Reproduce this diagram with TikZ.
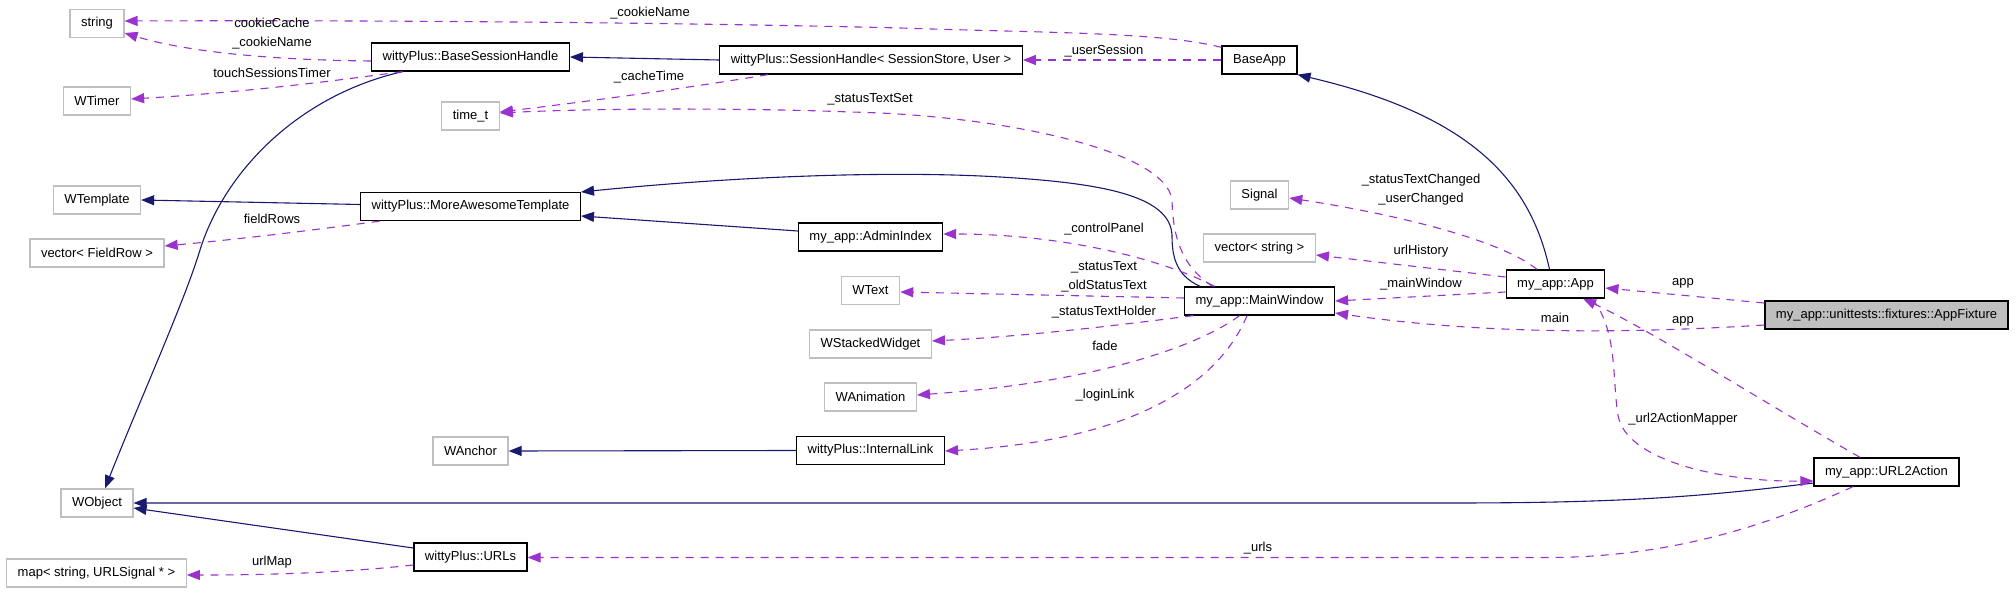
\documentclass[tikz,border=0pt]{standalone}
\usepackage{fontspec}
\setmainfont{Liberation Sans}
\usepackage{tikz}
\usetikzlibrary{arrows.meta}
\definecolor{InhBlue}{HTML}{191970}
\definecolor{UseOrchid}{HTML}{9A32CD}
\definecolor{ExtGray}{HTML}{BFBFBF}

\begin{document}
\begin{tikzpicture}[x=1pt,y=-1pt,
    every node/.style={font=\fontsize{13}{19}\selectfont},
    cls/.style={draw=black,line width=1.3pt,fill=white,minimum height=28pt,
      inner xsep=11pt,inner ysep=0pt},
    ext/.style={cls,draw=ExtGray},
    root/.style={cls,fill=ExtGray},
    inh/.style={draw=InhBlue,line width=1.1pt,
      -{Triangle[length=13pt,width=10pt]}},
    use/.style={draw=UseOrchid,line width=1.1pt,dash pattern=on 8pt off 7pt,
      -{Triangle[length=13pt,width=10pt]}},
    lbl/.style={align=center,inner sep=0pt}]
    \useasboundingbox (0,0) rectangle (2016,593);
    \node[ext] (string) at (97,23.5) {string};
    \node[ext] (wtimer) at (97,101) {WTimer};
    \node[ext] (wtemplate) at (97,200) {WTemplate};
    \node[ext] (fieldvec) at (97,253) {vector< FieldRow >};
    \node[ext] (wobject) at (97,503) {WObject};
    \node[ext] (urlmap) at (96.5,573) {map< string, URLSignal * >};
    \node[cls] (bsh) at (470.5,57) {wittyPlus::BaseSessionHandle};
    \node[ext] (timet) at (470.5,116) {time\_t};
    \node[cls] (mat) at (470.5,206.5) {wittyPlus::MoreAwesomeTemplate};
    \node[ext] (wanchor) at (470.5,451) {WAnchor};
    \node[cls] (urls) at (470.5,557) {wittyPlus::URLs};
    \node[cls] (sh) at (871,60) {wittyPlus::SessionHandle< SessionStore, User >};
    \node[cls] (admin) at (870.5,237) {my\_app::AdminIndex};
    \node[ext] (wtext) at (870.5,290.5) {WText};
    \node[ext] (wstacked) at (870.5,344) {WStackedWidget};
    \node[ext] (wanim) at (870.5,397) {WAnimation};
    \node[cls] (ilink) at (870.5,450.5) {wittyPlus::InternalLink};
    \node[cls] (baseapp) at (1259.5,60) {BaseApp};
    \node[ext] (signal) at (1259.5,195) {Signal};
    \node[ext] (strvec) at (1259.5,248) {vector< string >};
    \node[cls] (mainwin) at (1259.5,301) {my\_app::MainWindow};
    \node[cls] (app) at (1555.5,284) {my\_app::App};
    \node[root] (fixture) at (1886.5,315) {my\_app::unittests::fixtures::AppFixture};
    \node[cls] (url2act) at (1886.5,472) {my\_app::URL2Action};

    \draw[inh] ([xshift=-68pt]bsh.south) .. controls (300,95) and (225,170) .. (200,250)
      .. controls (185,300) and (140,400) .. ([xshift=8pt]wobject.north);
    \draw[inh] (sh.west) -- (bsh.east);
    \draw[inh] ([xshift=-6pt]app.north) .. controls (1530,180) and (1470,115) .. (baseapp.south east);
    \draw[inh] ([yshift=2pt]mat.west) -- (wtemplate.east);
    \draw[inh] ([xshift=-59.5pt]mainwin.north) .. controls (1175,275) and (1172,255) .. (1172,235)
      .. controls (1170,195) and (1100,183) .. (1000,177)
      .. controls (900,171) and (750,175) .. ([yshift=14.5pt]mat.east);
    \draw[inh] ([yshift=6pt]admin.west) -- ([yshift=-9.5pt]mat.east);
    \draw[inh] (ilink.west) -- (wanchor.east);
    \draw[inh] ([yshift=-11pt]url2act.west) .. controls (1700,497) and (1620,503) .. (1450,503)
      -- (wobject.east);
    \draw[inh] ([yshift=9pt]urls.west) -- ([yshift=-5pt]wobject.east);

    \draw[use] ([yshift=-2pt]baseapp.north west) .. controls (1160,32) and (1050,33) .. (900,28)
      .. controls (700,23) and (400,20) .. ([yshift=2.5pt]string.east);
    \draw[use] ([yshift=-4pt]bsh.west) .. controls (260,60) and (180,50) .. ([yshift=-9.5pt]string.east);
    \draw[use] ([xshift=-68pt]bsh.south) .. controls (340,80) and (250,92) .. ([yshift=2pt]wtimer.east);
    \draw[use] ([xshift=-103pt]sh.south) .. controls (700,86) and (600,100) .. ([yshift=4pt]timet.east);
    \draw[use] (baseapp.west) -- (sh.east);
    \draw[use] ([xshift=-47pt]mainwin.north) .. controls (1180,265) and (1173,235) .. (1172,200)
      .. controls (1166,150) and (1000,115) .. (850,112)
      .. controls (750,108) and (600,108) .. ([yshift=3pt]timet.east);
    \draw[use] ([xshift=-91pt]mat.south) .. controls (300,232) and (230,240) .. ([yshift=7pt]fieldvec.east);
    \draw[use] ([xshift=-45pt]mainwin.north) .. controls (1160,258) and (1060,234) .. ([yshift=3pt]admin.east);
    \draw[use] ([yshift=3pt]mainwin.west) -- ([yshift=-1.5pt]wtext.east);
    \draw[use] ([xshift=-66.5pt]mainwin.south) .. controls (1120,325) and (1030,336) .. ([yshift=3pt]wstacked.east);
    \draw[use] ([xshift=-20pt]mainwin.south) .. controls (1200,345) and (1100,382) .. ([yshift=2pt]wanim.east);
    \draw[use] ([xshift=-12.5pt]mainwin.south) .. controls (1220,380) and (1140,440) .. ([yshift=-0.5pt]ilink.east);
    \draw[use] ([xshift=-18.5pt]app.north) .. controls (1500,240) and (1400,215) .. ([yshift=-3pt]signal.east);
    \draw[use] ([yshift=7pt]app.west) -- ([yshift=-7pt]strvec.east);
    \draw[use] ([yshift=-8pt]app.west) -- (mainwin.east);
    \draw[use] ([yshift=12pt]fixture.west) -- ([yshift=-4pt]app.east);
    \draw[use] ([yshift=-10pt]fixture.west) .. controls (1620,334) and (1480,334) .. ([yshift=-12pt]mainwin.east);
    \draw[use] ([xshift=-26.5pt]url2act.north) .. controls (1760,400) and (1650,330) .. ([xshift=27.5pt]app.south);
    \draw[use] ([xshift=36.5pt]app.south) .. controls (1618,330) and (1612,380) .. (1618,415)
      .. controls (1625,460) and (1720,482) .. ([yshift=-9pt]url2act.west);
    \draw[use] ([xshift=-33.5pt]url2act.south) .. controls (1780,520) and (1680,557) .. (1550,557.5)
      -- ([yshift=-0.5pt]urls.east);
    \draw[use] ([yshift=-8pt]urls.west) .. controls (350,572) and (280,575) .. ([yshift=-2pt]urlmap.east);

    \node[lbl] (l-cookie) at (650,13) {\_cookieName};
    \node[lbl] (l-cache) at (272,33.5) {cookieCache\\\_cookieName};
    \node[lbl] (l-timer) at (272,73) {touchSessionsTimer};
    \node[lbl] (l-cachetime) at (649,77) {\_cacheTime};
    \node[lbl] (l-session) at (1104,51) {\_userSession};
    \node[lbl] (l-textset) at (870,99) {\_statusTextSet};
    \node[lbl] (l-rows) at (272,219) {fieldRows};
    \node[lbl] (l-panel) at (1104,229) {\_controlPanel};
    \node[lbl] (l-text) at (1104,277) {\_statusText\\\_oldStatusText};
    \node[lbl] (l-holder) at (1104,312) {\_statusTextHolder};
    \node[lbl] (l-fade) at (1105,346) {fade};
    \node[lbl] (l-login) at (1105,395) {\_loginLink};
    \node[lbl] (l-signal) at (1421,189.5) {\_statusTextChanged\\\_userChanged};
    \node[lbl] (l-history) at (1421,251) {urlHistory};
    \node[lbl] (l-mainwin) at (1421,284) {\_mainWindow};
    \node[lbl] (l-app) at (1683,283) {app};
    \node[lbl] (l-main) at (1555,318) {main};
    \node[lbl] (l-app2) at (1683,321) {app};
    \node[lbl] (l-mapper) at (1683,419) {\_url2ActionMapper};
    \node[lbl] (l-urls) at (1258,548) {\_urls};
    \node[lbl] (l-urlmap) at (272,562) {urlMap};
\end{tikzpicture}
\end{document}
